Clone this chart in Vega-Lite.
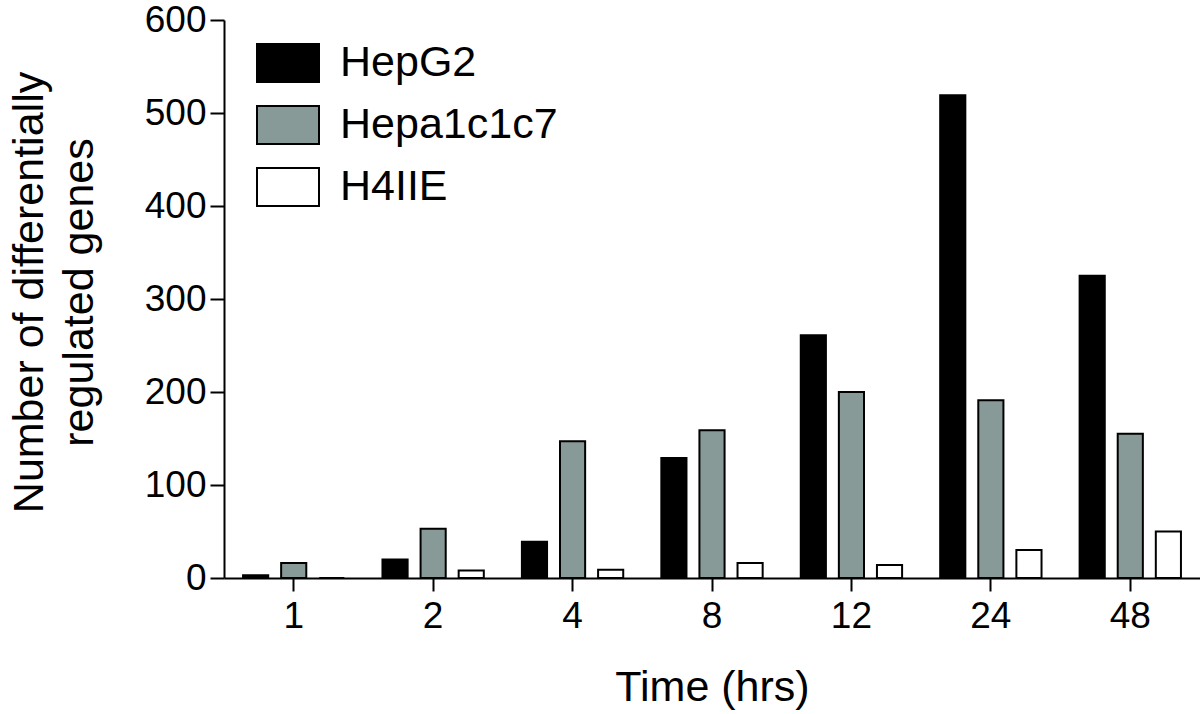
{
  "$schema": "https://vega.github.io/schema/vega-lite/v6.json",
  "width": 976,
  "height": 558,
  "autosize": "none",
  "padding": {"left": 224, "top": 20, "right": 0, "bottom": 136},
  "background": "white",
  "config": {
    "view": {"stroke": null},
    "font": "Liberation Sans",
    "axis": {"grid": false, "domainColor": "black", "domainWidth": 2, "tickColor": "black", "tickWidth": 2, "labelColor": "black", "titleColor": "black", "titleFontWeight": "normal"}
  },
  "data": {
    "values": [
      {"time": "1", "cell": "HepG2", "genes": 3},
      {"time": "1", "cell": "Hepa1c1c7", "genes": 16},
      {"time": "1", "cell": "H4IIE", "genes": 0},
      {"time": "2", "cell": "HepG2", "genes": 20},
      {"time": "2", "cell": "Hepa1c1c7", "genes": 53},
      {"time": "2", "cell": "H4IIE", "genes": 8},
      {"time": "4", "cell": "HepG2", "genes": 39},
      {"time": "4", "cell": "Hepa1c1c7", "genes": 147},
      {"time": "4", "cell": "H4IIE", "genes": 9},
      {"time": "8", "cell": "HepG2", "genes": 129},
      {"time": "8", "cell": "Hepa1c1c7", "genes": 159},
      {"time": "8", "cell": "H4IIE", "genes": 16},
      {"time": "12", "cell": "HepG2", "genes": 261},
      {"time": "12", "cell": "Hepa1c1c7", "genes": 200},
      {"time": "12", "cell": "H4IIE", "genes": 14},
      {"time": "24", "cell": "HepG2", "genes": 519},
      {"time": "24", "cell": "Hepa1c1c7", "genes": 191},
      {"time": "24", "cell": "H4IIE", "genes": 30},
      {"time": "48", "cell": "HepG2", "genes": 325},
      {"time": "48", "cell": "Hepa1c1c7", "genes": 155},
      {"time": "48", "cell": "H4IIE", "genes": 50}
    ]
  },
  "mark": {"type": "bar", "stroke": "black", "strokeWidth": 2},
  "encoding": {
    "x": {
      "field": "time",
      "type": "nominal",
      "sort": ["1", "2", "4", "8", "12", "24", "48"],
      "scale": {"paddingInner": 0, "paddingOuter": 0},
      "axis": {
        "title": "Time (hrs)",
        "titleFontSize": 43,
        "titleY": 122,
        "titleBaseline": "alphabetic",
        "labelFontSize": 37,
        "labelAngle": 0,
        "labelPadding": 7,
        "tickSize": 13
      }
    },
    "xOffset": {
      "field": "cell",
      "type": "nominal",
      "sort": ["HepG2", "Hepa1c1c7", "H4IIE"],
      "scale": {"paddingInner": 0.34, "paddingOuter": 0.5}
    },
    "y": {
      "field": "genes",
      "type": "quantitative",
      "scale": {"domain": [0, 600], "nice": false},
      "axis": {
        "values": [0, 100, 200, 300, 400, 500, 600],
        "title": ["Number of differentially", "regulated genes"],
        "titleFontSize": 43,
        "titleLineHeight": 50,
        "titleAngle": -90,
        "titleX": -216,
        "titleY": 272,
        "titleAlign": "center",
        "titleBaseline": "top",
        "labelFontSize": 37,
        "labelPadding": 4,
        "tickSize": 14
      }
    },
    "fill": {
      "field": "cell",
      "type": "nominal",
      "scale": {"domain": ["HepG2", "Hepa1c1c7", "H4IIE"], "range": ["#000000", "#879a97", "#ffffff"]},
      "legend": {
        "orient": "none",
        "legendX": 32,
        "legendY": 11,
        "title": null,
        "padding": 0,
        "symbolType": "M-1,-0.61H1V0.61H-1Z",
        "symbolSize": 3844,
        "symbolStrokeColor": "black",
        "symbolStrokeWidth": 2,
        "labelFontSize": 43,
        "labelColor": "black",
        "labelLimit": 0,
        "labelOffset": 20,
        "rowPadding": 7
      }
    }
  }
}
